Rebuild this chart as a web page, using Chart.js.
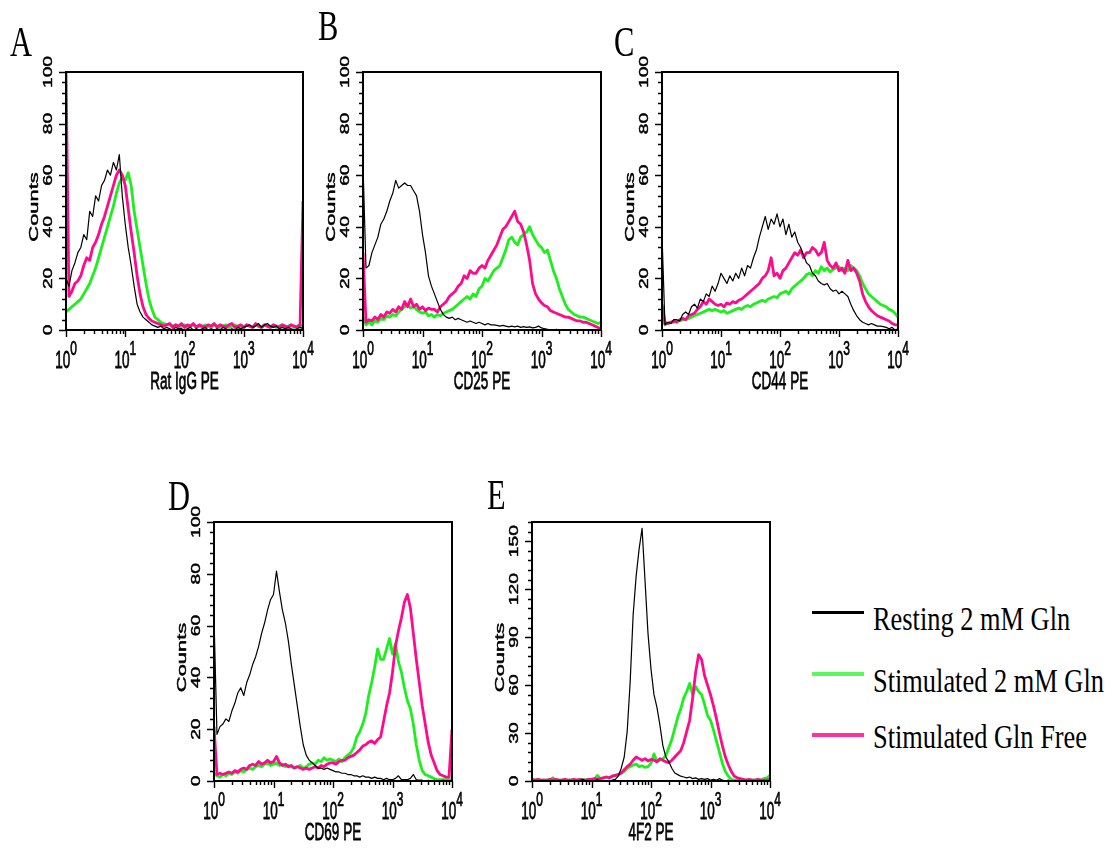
<!DOCTYPE html>
<html>
<head>
<meta charset="utf-8">
<script src="https://cdn.jsdelivr.net/npm/chart.js@4.4.1/dist/chart.umd.min.js"></script>
<style>
  html, body { margin: 0; padding: 0; background: #fff; width: 1112px; height: 850px; overflow: hidden; }
  body { position: relative; }
  canvas { position: absolute; }
  .tag {
    position: absolute; font-family: "Liberation Serif", "Times New Roman", serif;
    font-size: 30.5px; line-height: 1; color: #000; white-space: nowrap;
    transform: scaleY(1.38); transform-origin: 0 25.5px;
  }
  .key {
    position: absolute; left: 873px; font-family: "Liberation Serif", "Times New Roman", serif;
    font-size: 26.4px; line-height: 1; color: #000; white-space: nowrap;
    transform: scaleY(1.24); transform-origin: 0 22.1px;
  }
  .swatch { position: absolute; left: 812px; width: 52px; }
</style>
</head>
<body>
<canvas id="pA"></canvas>
<canvas id="pB"></canvas>
<canvas id="pC"></canvas>
<canvas id="pD"></canvas>
<canvas id="pE"></canvas>

<div class="tag" style="left:10px;top:31px">A</div>
<div class="tag" style="left:318px;top:15px">B</div>
<div class="tag" style="left:614px;top:31px">C</div>
<div class="tag" style="left:168px;top:485px">D</div>
<div class="tag" style="left:487px;top:484px">E</div>

<div class="swatch" style="top:611px;height:2.5px;background:#000"></div>
<div class="key" style="top:608px">Resting 2 mM Gln</div>
<div class="swatch" style="top:672px;height:3.5px;background:#5cf75c"></div>
<div class="key" style="top:670px">Stimulated 2 mM Gln</div>
<div class="swatch" style="top:733px;height:3.5px;background:#ff3399"></div>
<div class="key" style="top:726px">Stimulated Gln Free</div>

<script>
// histogram channel positions, in decades of fluorescence (10^0 .. 10^4)
const channelLog = [
  0, 0.05, 0.1, 0.15, 0.2, 0.25, 0.3, 0.35, 0.4, 0.45,
  0.5, 0.55, 0.6, 0.65, 0.7, 0.75, 0.8, 0.85, 0.9, 0.95,
  1, 1.05, 1.1, 1.15, 1.2, 1.25, 1.3, 1.35, 1.4, 1.45,
  1.5, 1.55, 1.6, 1.65, 1.7, 1.75, 1.8, 1.85, 1.9, 1.95,
  2, 2.05, 2.1, 2.15, 2.2, 2.25, 2.3, 2.35, 2.4, 2.45,
  2.5, 2.55, 2.6, 2.65, 2.7, 2.75, 2.8, 2.85, 2.9, 2.95,
  3, 3.05, 3.1, 3.15, 3.2, 3.25, 3.3, 3.35, 3.4, 3.45,
  3.5, 3.55, 3.6, 3.65, 3.7, 3.75, 3.8, 3.85, 3.9, 3.95,
  4
];

const xExponents = [0, 1, 2, 3, 4];
const countTicks100 = [0, 20, 40, 60, 80, 100];
const countTicks150 = [0, 30, 60, 90, 120, 150];

// A: Rat IgG PE
const ratIggResting = [
  20, 17, 23, 26, 30, 32, 37, 35, 46, 44,
  52, 50, 56, 58, 62, 60, 65, 62, 68, 52,
  41, 32, 25, 17, 10, 7, 5, 4, 3, 2,
  1.5, 1, 1.5, 0.5, 1, 0.5, 0, 1, 0.5, 0.5,
  0, 0.5, 1, 0, 0.5, 0, 0.5, 1, 0, 0.5,
  0, 0.5, 0, 1, 0.5, 0, 0.5, 0, 1, 0.5,
  1, 1.5, 2, 1, 1.5, 2.5, 1, 2, 2.5, 1.5,
  1, 1.5, 0.5, 1, 0.5, 1, 0.5, 0, 0.5, 1,
  0.5
];
const ratIggStim = [
  7, 8, 9, 10, 11, 12, 14, 16, 18, 21,
  24, 28, 32, 36, 40, 44, 48, 53, 57, 59,
  58, 61, 56, 46, 39, 32, 25, 18, 12, 8,
  5, 4, 3, 2.5, 2, 2, 1.5, 2, 1, 1.5,
  2, 1, 1.5, 2, 1, 1.5, 1, 2, 1.5, 1,
  2, 1.5, 1, 1.5, 2, 1, 1.5, 2, 1, 1.5,
  1, 2, 1.5, 1, 2, 1.5, 1, 2, 1.5, 1,
  2, 1, 1.5, 2, 1, 1.5, 2, 1, 1.5, 2,
  1
];
const ratIggFree = [
  100, 13, 15, 18, 19, 21, 25, 28, 27, 32,
  34, 37, 41, 44, 48, 52, 56, 60, 62, 60,
  56, 47, 38, 30, 21, 14, 9, 6, 4.5, 3.5,
  3, 2.5, 2, 1.5, 2, 2.5, 1, 2, 1.5, 2.5,
  1, 2, 1.5, 2.5, 1, 2, 1.5, 1, 2, 1.5,
  2.5, 1, 2, 1.5, 1, 2, 2.5, 1, 1.5, 2,
  1, 2, 1.5, 1, 2.5, 1.5, 1, 2, 1.5, 1,
  2, 1.5, 1, 2, 1.5, 1, 2, 1.5, 1, 2,
  50
];

// B: CD25 PE
const cd25Resting = [
  64, 24, 25, 30, 33, 36, 41, 43, 46, 50,
  53, 58, 55, 56, 57, 56, 56, 54, 52, 46,
  37, 30, 21, 17, 14, 11, 8, 6, 5, 4.5,
  5, 4, 4.5, 4, 3.5, 3, 3.5, 3, 2.5, 3,
  2.5, 2, 2.5, 2, 2, 1.8, 1.5, 1.8, 1.5, 1.2,
  1.5, 1.2, 1.5, 1, 1.3, 1, 1.2, 0.8, 1, 1.5,
  0.8, 0.5, 0.3, 0, 0, 0.3, 0, 0, 0, 0,
  0, 0, 0, 0, 0, 0, 0, 0, 0, 0,
  0
];
const cd25Stim = [
  5, 2, 3, 2, 3.5, 3, 4.5, 4, 5.5, 5,
  6, 5.5, 7, 8, 9, 10, 8.5, 9, 8, 7,
  6.5, 7, 5.5, 6, 5, 6, 5.5, 6.5, 7, 7.5,
  8, 9, 10, 11, 12, 13, 12, 14, 13, 16,
  17, 20, 19, 21, 23, 24, 25, 28, 31, 35,
  36, 34, 33, 36, 37, 38, 40, 37, 35, 33,
  32, 30, 31, 27, 23, 20, 16, 13, 10, 8,
  7, 6, 5.5, 5, 5, 4.5, 4, 3.5, 3, 2.5,
  3
];
const cd25Free = [
  30, 3, 4, 3.5, 5, 4, 6, 5, 7, 6.5,
  8, 7, 9, 8, 11, 9, 12, 9, 10, 8,
  9, 7.5, 8.5, 8, 8, 7, 9, 10, 11, 13,
  14, 15, 17, 18, 21, 20, 23, 22, 22, 24,
  25, 24, 27, 29, 31, 33, 36, 39, 40, 42,
  44, 46, 42, 41, 38, 33, 27, 18, 14, 12,
  10.5, 9.5, 9, 7.5, 7, 6.5, 6, 5.5, 5, 5,
  4.5, 4, 3.5, 3.5, 3, 3, 2.5, 2, 1.5, 1,
  0.5
];

// C: CD44 PE
const cd44Resting = [
  37, 2, 3, 2.5, 4, 4, 3.5, 6, 7, 6,
  9, 10, 8.5, 12, 11, 14, 13, 17, 15, 18,
  22, 20, 18, 21, 19, 22, 20, 24, 21, 25,
  24, 28, 31, 36, 40, 44, 39, 43, 41, 45,
  40, 43, 37, 41, 36, 38, 34, 32, 29, 26,
  25, 22, 21, 19, 18, 17.5, 18, 16, 15, 15.5,
  14, 15, 14, 13, 10, 7.5, 5.5, 4, 3, 2.5,
  2, 2.5, 2, 1.5, 1.5, 1.3, 1, 0.5, 1, 0,
  0.5
];
const cd44Stim = [
  4, 2, 2.5, 3, 3, 3.5, 3.5, 4, 4, 4.5,
  5, 5.5, 6, 6.5, 7, 7.5, 8, 7.5, 8, 7.5,
  7, 7.5, 6.5, 7, 7.5, 8, 8.5, 8, 9, 9.5,
  9, 10, 10.5, 11, 11.5, 11, 12, 12.5, 13, 12.5,
  14, 14.5, 15, 14, 16, 17, 18, 19, 20, 21.5,
  22, 21, 23, 22, 24.5, 23, 24, 22.5, 23.5, 24,
  24.5, 23, 24, 23, 25, 24, 23, 21, 18, 16,
  14, 13, 12, 11, 10, 9.5, 9, 8, 7.5, 6.5,
  5
];
const cd44Free = [
  10, 3, 2.5, 3, 3.5, 3, 4, 4.5, 4, 5.5,
  6, 6.5, 8, 9, 11, 10, 12, 11, 10, 9.5,
  10, 9, 10.5, 10, 11, 10.5, 11.5, 12, 13, 14,
  15, 16, 17, 18, 20, 21, 23, 28, 21, 22,
  20, 23, 24, 26, 28, 30, 29, 31, 28, 30,
  30, 32, 31, 29, 30, 34, 27, 25, 24, 26,
  23, 24, 22, 27, 23, 24, 22, 19, 14, 11,
  9, 7.5, 6.5, 5.5, 5, 4.5, 4, 3.5, 2.5, 2,
  2
];

// D: CD69 PE
const cd69Resting = [
  63, 18, 21, 22, 24, 23, 27, 30, 34, 36,
  33, 38, 41, 45, 48, 52, 57, 61, 66, 70,
  72, 81, 73, 66, 61, 54, 45, 37, 29, 21,
  14, 10, 8, 7, 6, 5, 5, 4.5, 5, 4.5,
  4, 3.5, 3.5, 3, 3, 2.5, 2.5, 2, 2, 1.5,
  2, 1.5, 1.5, 1, 1.5, 1, 1, 0.5, 1, 0.5,
  0.5, 1, 2, 0.5, 0.5, 0.5, 1, 2.5, 0.5, 0.3,
  0.3, 0, 0.3, 0, 0.3, 0, 0, 0.3, 0, 0,
  0
];
const cd69Stim = [
  3, 2, 1.5, 2.5, 2, 3, 2.5, 3.5, 3, 4,
  3.5, 4.5, 5, 4.5, 5.5, 6, 5.5, 6.5, 7, 6,
  6.5, 7, 6, 6.5, 5.5, 6, 5.5, 5, 5.5, 6,
  5, 5.5, 6.5, 7, 6.5, 8, 7.5, 9, 8, 8.5,
  8, 7.5, 8.5, 7.5, 9, 10, 11, 13, 17, 19,
  22, 26, 33, 38, 44, 51, 47, 47, 51, 55,
  49, 53, 46, 42, 36, 31, 28, 22, 14, 8,
  4, 2.5, 2, 1.5, 1, 0.5, 0.5, 0.5, 0.5, 0.5,
  0.5
];
const cd69Free = [
  21, 2.5, 3, 2.5, 3, 3.5, 3, 4, 3.5, 4.5,
  5, 4.5, 6, 6.5, 6, 7.5, 6.5, 7, 8, 7,
  7.5, 9.5, 7, 6, 6.5, 5.5, 6, 5, 5.5, 5,
  4.5, 5, 4.5, 5, 5.5, 5, 6, 5.5, 6.5, 7,
  7, 6.5, 7.5, 8, 8, 9, 9.5, 10, 11, 12,
  13.5, 14, 15, 15.5, 14.5, 16, 17, 23, 29, 34,
  42, 52, 58, 63, 69, 72, 67, 57, 47, 38,
  29, 22, 15, 10, 7, 4, 2.5, 2, 1.5, 1.5,
  20
];

// E: 4F2 PE
const f42Resting = [
  0, 0, 0, 0, 0, 0, 0, 0, 0, 0,
  0, 0, 0, 0, 0, 0, 0, 1, 0, 0,
  0, 0, 1, 0, 0, 0, 0, 0.5, 1, 3,
  8, 15, 31, 62, 104, 128, 145, 158, 125, 92,
  70, 54, 46, 35, 22, 15, 12, 8, 5, 4,
  3, 2.5, 2, 2.5, 1.5, 2, 1, 1.5, 1, 1.5,
  0.5, 1, 0.5, 1.5, 0.5, 0, 0.5, 0, 0, 0,
  0, 0, 0, 0, 0, 0, 0, 0, 0, 0,
  0
];
const f42Stim = [
  0.5, 0.5, 0.5, 0.5, 0.5, 0.5, 0.5, 2, 0.5, 0.5,
  0.5, 0.5, 0.5, 0.5, 0.5, 0.5, 0.5, 1, 0.5, 0.5,
  0.5, 1, 3.5, 1.5, 2, 2.5, 2, 3, 3.5, 4,
  5, 6, 8, 9, 10, 10.5, 9, 9.5, 8.5, 9,
  11, 17, 12, 13, 14, 16, 21, 26, 33, 40,
  45, 52, 56, 61, 54, 59, 56, 54, 48, 41,
  38, 32, 25, 18, 11, 6, 3, 1, 0.5, 0.5,
  0.5, 0.5, 0.5, 0.5, 0.5, 0.5, 0.5, 0.5, 1.5, 2,
  3.5
];
const f42Free = [
  1, 0.5, 1, 0.5, 0.5, 0.5, 1, 0.5, 1, 0.5,
  0.5, 1, 0.5, 0.5, 1, 0.5, 1, 0.5, 0.5, 1,
  1, 1.5, 1, 1.5, 2, 2.5, 2, 3, 3.5, 4,
  5, 7, 9, 10.5, 13, 15, 14, 13, 14, 12.5,
  13.5, 13, 12, 14, 13, 12, 11.5, 13, 15, 17,
  19, 24, 31, 38, 52, 68, 79, 76, 66, 60,
  54, 47, 39, 30, 22, 15, 10, 6, 3, 2,
  1.5, 1, 0.5, 1, 0.5, 0.5, 1, 0.5, 0.5, 0.5,
  1
];

const BLACK = '#000000';
const GREEN = '#1cf01c';
const MAGENTA = '#ff0a8c';
const SANS = '"Liberation Sans", Arial, sans-serif';
const PAD = { left: 62, top: 28, right: 14, bottom: 72 };

const panels = [
  { id: 'pA', box: [66, 72, 303, 330], title: 'Rat IgG PE', yMax: 100, yStep: 20, yMinor: 4, yLabels: countTicks100,
    resting: ratIggResting, stim: ratIggStim, free: ratIggFree },
  { id: 'pB', box: [363, 72, 601, 330], title: 'CD25 PE', yMax: 100, yStep: 20, yMinor: 4, yLabels: countTicks100,
    resting: cd25Resting, stim: cd25Stim, free: cd25Free },
  { id: 'pC', box: [662, 72, 898, 330], title: 'CD44 PE', yMax: 100, yStep: 20, yMinor: 4, yLabels: countTicks100,
    resting: cd44Resting, stim: cd44Stim, free: cd44Free },
  { id: 'pD', box: [214, 522, 452, 781], title: 'CD69 PE', yMax: 100, yStep: 20, yMinor: 4, yLabels: countTicks100,
    resting: cd69Resting, stim: cd69Stim, free: cd69Free },
  { id: 'pE', box: [532, 522, 770, 781], title: '4F2 PE', yMax: 162, yStep: 30, yMinor: 6, yLabels: countTicks150,
    resting: f42Resting, stim: f42Stim, free: f42Free }
];

function points(counts) {
  return channelLog.map((u, i) => ({ x: Math.pow(10, u), y: counts[i] }));
}

// the axis lettering is tall and narrow and a little heavy
function paintText(ctx, txt) {
  ctx.fillText(txt, 0, 0);
  ctx.lineWidth = 0.45;
  ctx.strokeText(txt, 0, 0);
}

function tallText(ctx, txt, x, y, font, stretch, align) {
  ctx.save();
  ctx.translate(x, y);
  ctx.scale(1, stretch);
  ctx.font = font;
  ctx.textAlign = align;
  ctx.textBaseline = 'alphabetic';
  paintText(ctx, txt);
  ctx.restore();
}

function upText(ctx, txt, x, y, font, stretch) {
  ctx.save();
  ctx.translate(x, y);
  ctx.rotate(-Math.PI / 2);
  ctx.scale(stretch, 1);
  ctx.font = font;
  ctx.textAlign = 'center';
  ctx.textBaseline = 'alphabetic';
  paintText(ctx, txt);
  ctx.restore();
}

function histAxes(p) {
  return {
    id: 'histAxes',
    afterDatasetsDraw(chart) {
      const { ctx, chartArea: a, scales: { x, y } } = chart;
      ctx.save();
      ctx.strokeStyle = '#000';
      ctx.fillStyle = '#000';

      // ticks point outward
      ctx.lineWidth = 1.4;
      ctx.beginPath();
      for (let v = 0; v <= p.yMax; v += p.yMinor) {
        const py = Math.round(y.getPixelForValue(v)) + 0.5;
        const len = v % p.yStep === 0 ? 7 : 4;
        ctx.moveTo(a.left - len, py);
        ctx.lineTo(a.left, py);
      }
      for (let d = 0; d <= 4; d++) {
        for (let k = 1; k <= 9; k++) {
          if (d === 4 && k > 1) break;
          const px = Math.round(x.getPixelForValue(k * Math.pow(10, d))) + 0.5;
          const len = k === 1 ? 7 : 4;
          ctx.moveTo(px, a.bottom);
          ctx.lineTo(px, a.bottom + len);
        }
      }
      ctx.stroke();

      ctx.lineWidth = 2;
      ctx.strokeRect(a.left, a.top, a.right - a.left, a.bottom - a.top);

      // count labels, reading bottom to top
      p.yLabels.forEach(v => {
        upText(ctx, String(v), a.left - 14, y.getPixelForValue(v), '13.5px ' + SANS, 1.42);
      });
      upText(ctx, 'Counts', a.left - 28, (a.top + a.bottom) / 2 + 6, '13.5px ' + SANS, 1.62);

      // decade labels 10^n
      const baseFont = '13.5px ' + SANS;
      const expFont = '12px ' + SANS;
      xExponents.forEach(e => {
        const px = x.getPixelForValue(Math.pow(10, e));
        ctx.font = baseFont;
        const w1 = ctx.measureText('10').width;
        ctx.font = expFont;
        const w2 = ctx.measureText(String(e)).width;
        const start = px - (w1 + w2) / 2;
        tallText(ctx, '10', start, a.bottom + 38, baseFont, 1.75, 'left');
        tallText(ctx, String(e), start + w1, a.bottom + 25, expFont, 1.65, 'left');
      });
      tallText(ctx, p.title, (a.left + a.right) / 2, a.bottom + 59, '13.5px ' + SANS, 1.75, 'center');

      ctx.restore();
    }
  };
}

panels.forEach(p => {
  const [l, t, r, b] = p.box;
  const canvas = document.getElementById(p.id);
  canvas.width = (r - l) + PAD.left + PAD.right;
  canvas.height = (b - t) + PAD.top + PAD.bottom;
  canvas.style.left = (l - PAD.left) + 'px';
  canvas.style.top = (t - PAD.top) + 'px';

  new Chart(canvas, {
    type: 'line',
    data: {
      datasets: [
        { label: 'Resting 2 mM Gln', data: points(p.resting), borderColor: BLACK, borderWidth: 1.2 },
        { label: 'Stimulated Gln Free', data: points(p.free), borderColor: MAGENTA, borderWidth: 2.8 },
        { label: 'Stimulated 2 mM Gln', data: points(p.stim), borderColor: GREEN, borderWidth: 2.8 }
      ]
    },
    options: {
      responsive: false,
      animation: false,
      events: [],
      layout: { padding: PAD },
      elements: {
        point: { radius: 0 },
        line: { tension: 0, borderJoinStyle: 'round', fill: false }
      },
      scales: {
        x: { type: 'logarithmic', min: 1, max: 10000, display: false },
        y: { type: 'linear', min: 0, max: p.yMax, display: false }
      },
      plugins: {
        legend: { display: false },
        tooltip: { enabled: false }
      }
    },
    plugins: [histAxes(p)]
  });
});
</script>
</body>
</html>
